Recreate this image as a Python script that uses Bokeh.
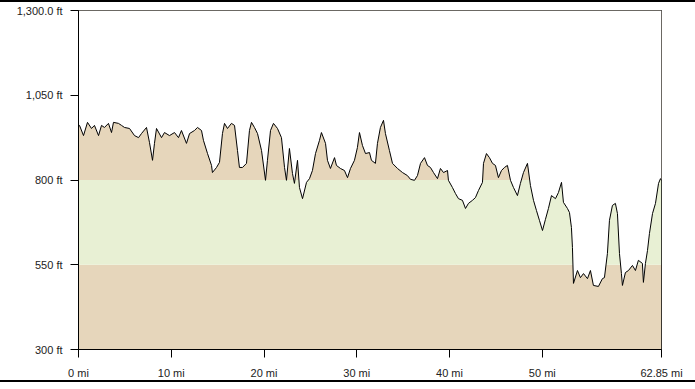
from bokeh.plotting import figure
from bokeh.models import FixedTicker, ColumnDataSource
from bokeh.embed import file_html
from bokeh.resources import INLINE

miles = [0, 0.11, 0.54, 0.97, 1.40, 1.72, 2.16, 2.48, 2.80, 3.23, 3.56, 3.77, 4.31, 4.64, 4.96,
         5.50, 6.04, 6.47, 6.79, 7.33, 7.65, 7.98, 8.19, 8.41, 8.95, 9.27, 9.81, 10.35, 10.78,
         11.10, 11.64, 11.97, 12.50, 12.83, 13.26, 13.47, 13.91, 14.34, 14.44, 14.88, 15.20,
         15.52, 15.74, 16.06, 16.49, 16.82, 17.14, 17.35, 17.68, 18.11, 18.43, 18.65, 18.97,
         19.30, 19.73, 20.16, 20.37, 20.70, 21.02, 21.45, 21.88, 22.21, 22.42, 22.74, 23.07,
         23.28, 23.61, 23.82, 24.15, 24.58, 24.90, 25.22, 25.55, 25.98, 26.19, 26.63, 26.84,
         27.16, 27.60, 27.81, 28.24, 28.67, 29.00, 29.32, 29.75, 30.07, 30.29, 30.61, 30.94,
         31.37, 31.58, 32.01, 32.23, 32.55, 32.88, 33.09, 33.52, 33.85, 34.39, 34.93, 35.46,
         35.79, 36.22, 36.54, 36.87, 37.30, 37.62, 37.94, 38.27, 38.70, 39.02, 39.35, 39.78,
         39.88, 40.31, 40.64, 40.96, 41.39, 41.72, 42.04, 42.47, 42.79, 43.12, 43.55, 43.66,
         43.98, 44.30, 44.63, 44.95, 45.27, 45.60, 45.92, 46.24, 46.57, 46.89, 47.32, 47.64,
         47.97, 48.40, 48.72, 49.05, 49.37, 49.69, 50.02, 50.34, 50.66, 50.99, 51.42, 51.74,
         52.07, 52.28, 52.71, 52.93, 53.14, 53.25, 53.36, 53.79, 54.11, 54.44, 54.87, 55.19,
         55.51, 56.05, 56.48, 56.70, 57.02, 57.24, 57.56, 57.88, 58.10, 58.32, 58.53, 58.64,
         58.96, 59.29, 59.72, 60.04, 60.36, 60.79, 60.90, 61.12, 61.34, 61.55, 61.88, 62.20,
         62.53, 62.74, 62.85]

elevation_ft = [961, 961, 931, 970, 952, 961, 931, 961, 955, 967, 940, 970, 967, 961, 955,
                952, 931, 925, 937, 955, 911, 858, 908, 952, 925, 940, 931, 940, 925,
                946, 908, 937, 946, 955, 946, 917, 878, 843, 822, 837, 852,
                937, 967, 952, 967, 961, 887, 837, 837, 849, 946, 970, 955,
                937, 887, 799, 858, 946, 967, 952, 925, 837, 799, 893, 819,
                790, 858, 778, 745, 793, 804, 828, 878, 917, 940, 908, 858,
                834, 866, 843, 834, 828, 807, 834, 858, 896, 940, 902, 878,
                881, 858, 849, 908, 955, 976, 937, 887, 849, 834, 822, 813,
                802, 799, 813, 849, 866, 843, 837, 822, 804, 834, 822, 828,
                799, 778, 760, 745, 740, 716, 731, 740, 748, 769, 793, 849,
                878, 866, 849, 843, 807, 828, 837, 843, 799, 778, 754, 790,
                822, 849, 784, 740, 710, 681, 651, 684, 716, 754, 745, 763,
                793, 734, 716, 704, 660, 601, 495, 533, 512, 524, 509, 533,
                489, 486, 509, 512, 583, 681, 725, 731, 701, 583, 524, 489,
                527, 533, 548, 533, 563, 554, 498, 554, 592, 642, 701, 731,
                790, 804, 799]

band_bottom = [300, 550, 800]
band_top = [550, 800, 1300]
band_color = ["#e6d6bb", "#e8f0d4", "#e6d6bb"]

y_ticks = [300, 550, 800, 1050, 1300]
y_tick_labels = ["300 ft", "550 ft", "800 ft", "1,050 ft", "1,300.0 ft"]
x_ticks = [0, 10, 20, 30, 40, 50, 62.85]
x_tick_labels = ["0 mi", "10 mi", "20 mi", "30 mi", "40 mi", "50 mi", "62.85 mi"]

x_max = 62.85
y_min, y_max = 300, 1300

p = figure(width=695, height=382, output_backend="svg", toolbar_location=None,
           x_range=(0, x_max), y_range=(y_min, y_max),
           min_border_left=78, min_border_right=34, min_border_top=8, min_border_bottom=35)
p.styles = {"border-top": "2px solid black", "border-bottom": "2px solid black"}

p.quad(left=0, right=x_max, bottom=band_bottom, top=band_top, fill_color=band_color,
       line_color=None)

src = ColumnDataSource(dict(x=miles, y=elevation_ft, top=[y_max] * len(miles)))
p.varea(x="x", y1="y", y2="top", source=src, fill_color="white")
p.line(x="x", y="y", source=src, line_color="black", line_width=1)

p.xgrid.visible = False
p.ygrid.visible = False
p.outline_line_color = "black"
p.outline_line_width = 1
p.outline_line_alpha = 1

for ax in (p.xaxis[0], p.yaxis[0]):
    ax.axis_line_color = "black"
    ax.axis_line_width = 1
    ax.major_tick_line_color = "black"
    ax.major_tick_out = 8
    ax.major_tick_in = 0
    ax.minor_tick_out = 0
    ax.minor_tick_in = 0
    ax.major_label_text_font = "Liberation Sans"
    ax.major_label_text_font_size = "11px"
    ax.major_label_text_color = "#222222"

p.xaxis.ticker = FixedTicker(ticks=x_ticks)
p.xaxis.major_label_overrides = dict(zip(x_ticks, x_tick_labels))
p.xaxis.major_label_standoff = 9
p.yaxis.ticker = FixedTicker(ticks=y_ticks)
p.yaxis.major_label_overrides = dict(zip(y_ticks, y_tick_labels))
p.yaxis.major_label_standoff = 8

open("out.html", "w").write(file_html(p, INLINE))
